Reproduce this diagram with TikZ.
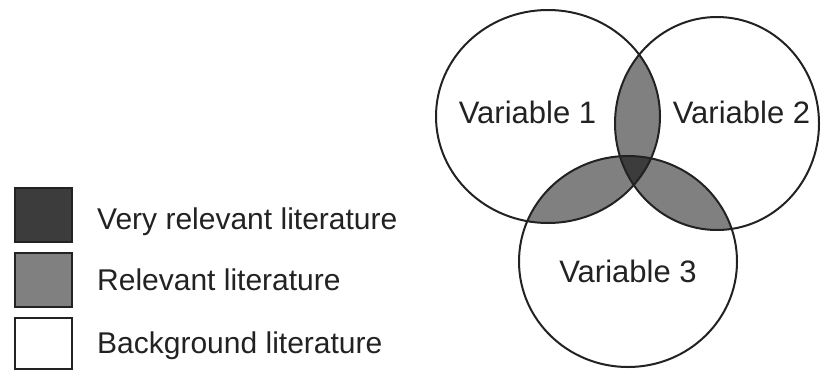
\documentclass[tikz,border=0pt]{standalone}
\usepackage{fontspec}
\setmainfont{Liberation Sans}
\definecolor{inkc}{HTML}{222222}
\definecolor{relc}{HTML}{808080}
\definecolor{vrelc}{HTML}{3C3C3C}
\tikzset{
  outline/.style={draw=inkc, line width=2pt},
  lbl/.style={inner sep=0pt, text=inkc, font=\fontsize{31}{36}\selectfont},
  legtxt/.style={inner sep=0pt, anchor=base west, text=inkc, font=\fontsize{30}{36}\selectfont},
  legbox/.style={draw=inkc, line width=2pt},
}
\begin{document}
\begin{tikzpicture}[x=1pt,y=-1pt]
\useasboundingbox (0,0) rectangle (821,370);
\def\eA{(548,116.5) ellipse [x radius=112pt, y radius=106.5pt]}
\def\eB{(717,123.5) ellipse [x radius=102pt, y radius=106.5pt]}
\def\eC{(628,261.5) ellipse [x radius=109pt, y radius=105.5pt]}
% pairwise overlaps
\begin{scope}\clip \eA; \fill[relc] \eB; \end{scope}
\begin{scope}\clip \eA; \fill[relc] \eC; \end{scope}
\begin{scope}\clip \eB; \fill[relc] \eC; \end{scope}
% triple overlap
\begin{scope}\clip \eA; \clip \eB; \fill[vrelc] \eC; \end{scope}
% outlines
\draw[outline] \eA;
\draw[outline] \eB;
\draw[outline] \eC;
% labels
\node[lbl, anchor=base] (v1) at (527.5,123) {Variable 1};
\node[lbl, anchor=base] (v2) at (741.5,123) {Variable 2};
\node[lbl, anchor=base] (v3) at (628,282) {Variable 3};
% legend
\filldraw[legbox, fill=vrelc] (15,188) rectangle (72,242);
\filldraw[legbox, fill=relc] (15,253) rectangle (72,307);
\draw[legbox] (15,318) rectangle (72,369);
\node[legtxt] (l1) at (97,229) {Very relevant literature};
\node[legtxt] (l2) at (97,290) {Relevant literature};
\node[legtxt] (l3) at (97,353) {Background literature};
\end{tikzpicture}
\end{document}
